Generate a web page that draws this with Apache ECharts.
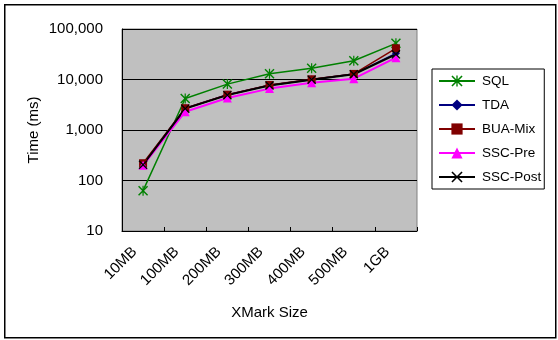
<!DOCTYPE html>
<html>
<head>
<meta charset="utf-8">
<script src="https://cdn.jsdelivr.net/npm/echarts@6/dist/echarts.min.js"></script>
<style>html,body{margin:0;padding:0;background:#fff;}#c{width:558px;height:340px;}</style>
</head>
<body>
<div id="c"></div>
<script>
const categories = ['10MB', '100MB', '200MB', '300MB', '400MB', '500MB', '1GB'];
const sqlData = [63, 4200, 8100, 13000, 16700, 23500, 52000];
const tdaData = [210, 2700, 5000, 7700, 10000, 12800, 33000];
const buaMixData = [220, 2700, 5000, 7800, 10100, 12900, 41500];
const sscPreData = [200, 2300, 4300, 6600, 8600, 10400, 27000];
const sscPostData = [205, 2650, 4900, 7600, 9900, 12700, 31500];
const yTicks = [10, 100, 1000, 10000, 100000];

const FONT = 'Liberation Sans, Arial, sans-serif';
const xShape = 'path://M0,1L1,0L5,4L9,0L10,1L6,5L10,9L9,10L5,6L1,10L0,9L4,5Z';
const starShape = 'path://M0,1L1,0L5,4L9,0L10,1L6,5L10,9L9,10L5,6L1,10L0,9L4,5ZM4.4,0L5.6,0L5.6,10L4.4,10Z';

function mk(name, data, color, symbol, size, width) {
  return {
    name: name, type: 'line', data: data, symbol: symbol, symbolSize: size,
    showAllSymbol: true, animation: false,
    lineStyle: { color: color, width: width },
    itemStyle: { color: color, borderWidth: 0 }
  };
}

const chart = echarts.init(document.getElementById('c'), null, { renderer: 'canvas' });
chart.setOption({
  animation: false,
  textStyle: { fontFamily: FONT },
  graphic: [{
    type: 'rect', left: 4, top: 4, z: -1,
    shape: { x: 0, y: 0, width: 551, height: 333 },
    style: { fill: '#fff', stroke: '#000', lineWidth: 1.5 }
  }],
  grid: { left: 122, top: 29, width: 295, height: 202, show: true, backgroundColor: '#c0c0c0', borderColor: '#808080', borderWidth: 1 },
  legend: {
    orient: 'vertical', left: 432, top: 69,
    padding: [5, 3, 5, 6], itemGap: 10, itemWidth: 36, itemHeight: 14,
    borderColor: '#000', borderWidth: 1, backgroundColor: '#fff',
    textStyle: { fontFamily: FONT, fontSize: 13.5, color: '#000', padding: [0, 0, 0, 2] },
    data: ['SQL', 'TDA', 'BUA-Mix', 'SSC-Pre', 'SSC-Post']
  },
  xAxis: {
    type: 'category', data: categories, boundaryGap: true,
    name: 'XMark Size', nameLocation: 'middle', nameGap: 74, nameMoveOverlap: false,
    nameTextStyle: { fontFamily: FONT, fontSize: 15, color: '#000' },
    axisLine: { lineStyle: { color: '#000', width: 1 } },
    axisTick: { show: true, inside: true, length: 4, lineStyle: { color: '#000' } },
    axisLabel: { rotate: 45, margin: 10, padding: [0, 12, 0, 0], fontFamily: FONT, fontSize: 15, color: '#000', interval: 0 },
    splitLine: { show: false }
  },
  yAxis: {
    type: 'log', logBase: 10, min: yTicks[0], max: yTicks[yTicks.length - 1],
    name: 'Time (ms)', nameLocation: 'middle', nameGap: 81, nameRotate: 90, nameMoveOverlap: false,
    nameTextStyle: { fontFamily: FONT, fontSize: 15, color: '#000' },
    axisLine: { show: true, lineStyle: { color: '#000', width: 1 } },
    axisTick: { show: true, inside: true, length: 4, lineStyle: { color: '#000' } },
    axisLabel: { margin: 19, fontFamily: FONT, fontSize: 15, color: '#000',
      formatter: v => Math.round(v).toLocaleString('en-US') },
    splitLine: { show: true, lineStyle: { color: '#000', width: 1 } },
    minorTick: { show: false }
  },
  series: [
    mk('SQL', sqlData, '#008000', starShape, 10, 1.5),
    mk('TDA', tdaData, '#000080', 'diamond', 8, 1.5),
    mk('BUA-Mix', buaMixData, '#800000', 'rect', 8, 1.5),
    mk('SSC-Pre', sscPreData, '#ff00ff', 'triangle', 9, 2),
    mk('SSC-Post', sscPostData, '#000000', xShape, 9, 2)
  ]
});
</script>
</body>
</html>
